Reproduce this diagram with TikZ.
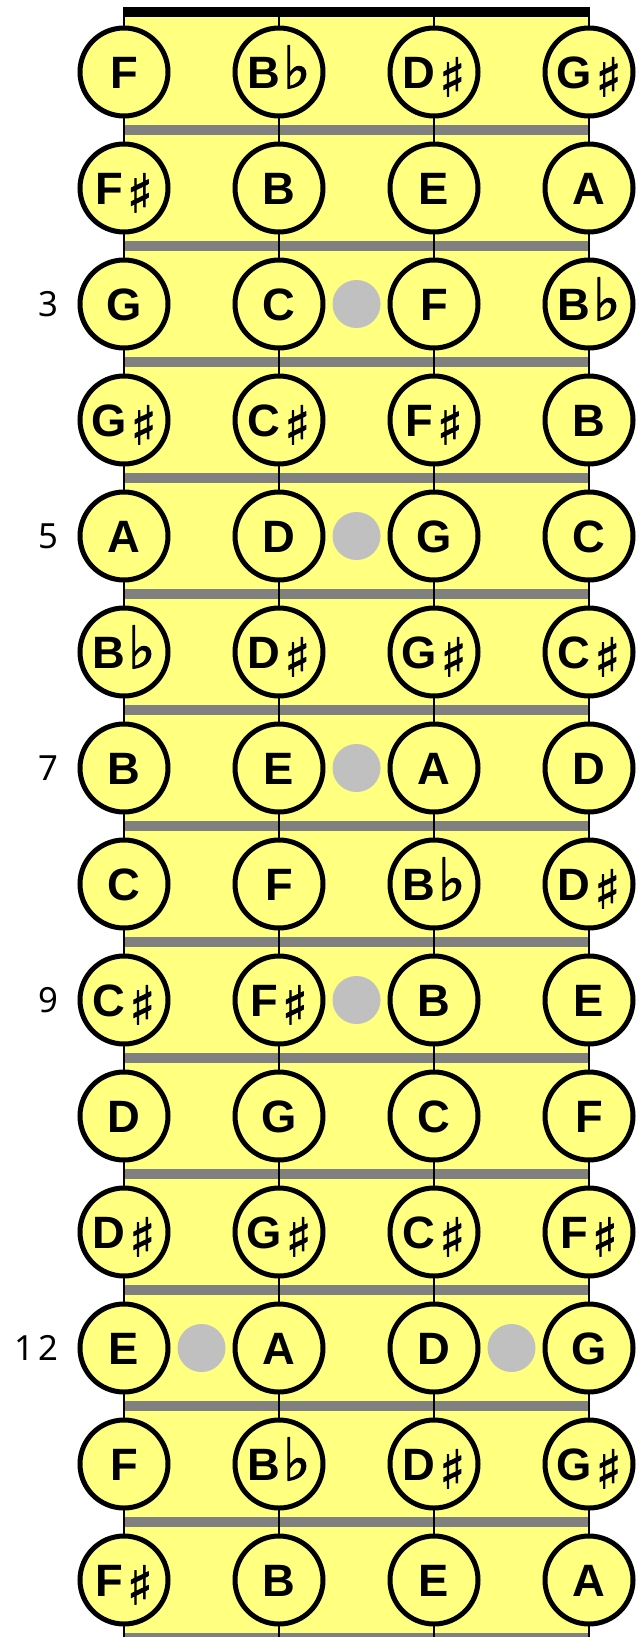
\documentclass[tikz,border=0pt]{standalone}
\usepackage{fontspec}
\setmainfont{Liberation Sans}
\newfontfamily\symfont[FakeBold=2]{DejaVu Sans}
\newfontfamily\numfont[LetterSpace=14]{Noto Sans}
\usepackage{xcolor}
\usetikzlibrary{positioning,calc}
\definecolor{board}  {HTML}{FFFF80}
\definecolor{fretc}  {HTML}{808080}
\definecolor{inlay}  {HTML}{C0C0C0}
\newcommand{\shrp}[1]{#1\kern3pt\raisebox{-6pt}{\symfont\fontsize{40}{40}\selectfont ♯}}
\newcommand{\flt}[1]{#1\kern2pt{\symfont\fontsize{44}{44}\selectfont ♭}}
\tikzset{
  note/.style    = {circle, draw=black, fill=board, line width=3.75pt,
                    minimum size=66pt, inner sep=0pt, text height=24.5pt, text depth=0pt,
                    font=\bfseries\fontsize{34}{34}\selectfont},
  dotmark/.style = {circle, fill=inlay, minimum size=36pt, inner sep=0pt},
  fretnum/.style = {inner sep=0pt, font=\numfont\fontsize{26}{26}\selectfont},
  fretbar/.style = {fill=fretc, draw=none},
  stringl/.style = {draw=black, line width=0.9pt},
}

\begin{document}
\begin{tikzpicture}[x=0.75pt, y=-0.75pt]
  \useasboundingbox (0,0) rectangle (636,1637);

  % board
  \fill[board] (124,7) rectangle (589,1637);
  \foreach \k in {1,...,14}
    \fill[fretbar] (124,{125+(\k-1)*116}) rectangle (589,{135+(\k-1)*116});
  \fill[black] (124,7) rectangle (589,17);
  \foreach \x in {124,279,434,589}
    \draw[stringl] (\x,7) -- (\x,1637);

  % notes, one row per fret
  \foreach \r/\na/\nb/\nc/\nd in {
      1/F/\flt{B}/\shrp{D}/\shrp{G},
      2/\shrp{F}/B/E/A,
      3/G/C/F/\flt{B},
      4/\shrp{G}/\shrp{C}/\shrp{F}/B,
      5/A/D/G/C,
      6/\flt{B}/\shrp{D}/\shrp{G}/\shrp{C},
      7/B/E/A/D,
      8/C/F/\flt{B}/\shrp{D},
      9/\shrp{C}/\shrp{F}/B/E,
      10/D/G/C/F,
      11/\shrp{D}/\shrp{G}/\shrp{C}/\shrp{F},
      12/E/A/D/G,
      13/F/\flt{B}/\shrp{D}/\shrp{G},
      14/\shrp{F}/B/E/A} {
    \node[note] (n-\r-1) at (124,{72+(\r-1)*116}) {\na};
    \node[note] (n-\r-2) at (279,{72+(\r-1)*116}) {\nb};
    \node[note] (n-\r-3) at (434,{72+(\r-1)*116}) {\nc};
    \node[note] (n-\r-4) at (589,{72+(\r-1)*116}) {\nd};
  }

  % inlays and fret numbers
  \foreach \r in {3,5,7,9}
    \node[dotmark] (dot-\r) at ($(n-\r-2)!0.5!(n-\r-3)$) {};
  \node[dotmark] (dot-12a) at ($(n-12-1)!0.5!(n-12-2)$) {};
  \node[dotmark] (dot-12b) at ($(n-12-3)!0.5!(n-12-4)$) {};
  \foreach \r in {3,5,7,9,12}
    \node[fretnum, left=14pt of n-\r-1] (num-\r) {\r};
\end{tikzpicture}
\end{document}
